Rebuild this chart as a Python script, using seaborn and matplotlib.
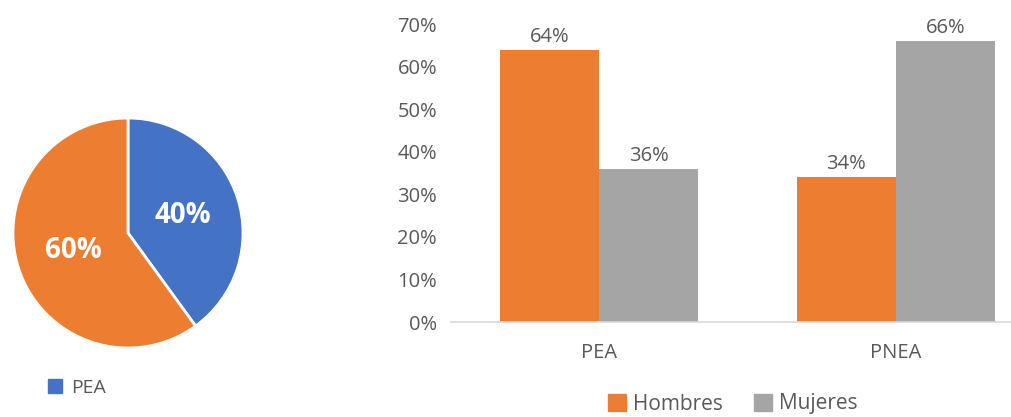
import matplotlib
matplotlib.use('Agg')
import matplotlib.pyplot as plt
from matplotlib.patches import Patch
from matplotlib.ticker import PercentFormatter
import numpy as np
import pandas as pd
import seaborn as sns

# pie data
pie_labels = ['PEA', 'PNEA']
pie_values = [40, 60]

# bar data
categories = ['PEA', 'PNEA']
hombres = [0.64, 0.34]
mujeres = [0.36, 0.66]
series_names = ['Hombres', 'Mujeres']

BLUE = '#4472C4'
ORANGE = '#ED7D31'
GRAY = '#A5A5A5'
TEXT = '#595959'

sns.set_theme(style='white')
plt.rcParams['font.family'] = ['Open Sans', 'DejaVu Sans']

fig = plt.figure(figsize=(10.11, 4.17), dpi=100)

# Pie on the left
ax_pie = fig.add_axes([13 / 1011, 69 / 417, 230 / 1011, 230 / 417])
wedges, texts, autotexts = ax_pie.pie(
    pie_values, colors=[BLUE, ORANGE], startangle=90, counterclock=False,
    autopct='%1.0f%%', pctdistance=0.5,
    wedgeprops=dict(edgecolor='white', linewidth=2),
    textprops=dict(color='white', fontsize=20, fontweight='bold'))
ax_pie.set_xlim(-1.0, 1.0)
ax_pie.set_ylim(-1.0, 1.0)
ax_pie.set_aspect('equal')
fig.legend([Patch(color=BLUE)], [pie_labels[0]], loc='center left',
           bbox_to_anchor=(30 / 1011, 1 - 388 / 417), frameon=False,
           handlelength=0.75, handleheight=0.75, handletextpad=0.45,
           fontsize=14, labelcolor=TEXT)

# Bars on the right
df = pd.DataFrame({
    'cat': categories * 2,
    'serie': [series_names[0]] * 2 + [series_names[1]] * 2,
    'val': hombres + mujeres,
})
ax = fig.add_axes([451 / 1011, 95 / 417, 593 / 1011, 298 / 417])
sns.barplot(data=df, x='cat', y='val', hue='serie', palette=[ORANGE, GRAY],
            width=0.668, linewidth=0, saturation=1, ax=ax, legend=False)
ax.set_xlim(-0.5, 1.5)
ax.set_ylim(0, 0.70)
ax.set_yticks(np.arange(0, 0.71, 0.1))
ax.yaxis.set_major_formatter(PercentFormatter(1.0, decimals=0))
ax.set_xlabel('')
ax.set_ylabel('')
for s in ['top', 'right', 'left']:
    ax.spines[s].set_visible(False)
ax.spines['bottom'].set_color('#D9D9D9')
ax.spines['bottom'].set_linewidth(1.2)
ax.tick_params(axis='y', length=0, pad=10, labelsize=14.5, labelcolor=TEXT)
ax.tick_params(axis='x', length=0, pad=15, labelsize=14.5, labelcolor=TEXT)
for cont in ax.containers:
    ax.bar_label(cont, labels=[f'{v * 100:.0f}%' for v in cont.datavalues],
                 padding=2, fontsize=14.5, color=TEXT)

handles = [Patch(color=ORANGE), Patch(color=GRAY)]
fig.legend(handles, series_names, loc='center',
           bbox_to_anchor=(733 / 1011, 1 - 404 / 417), ncol=2, frameon=False,
           handlelength=0.85, handleheight=0.85, handletextpad=0.35,
           columnspacing=1.5, fontsize=15, labelcolor=TEXT)

fig.savefig('out.png', dpi=100)
